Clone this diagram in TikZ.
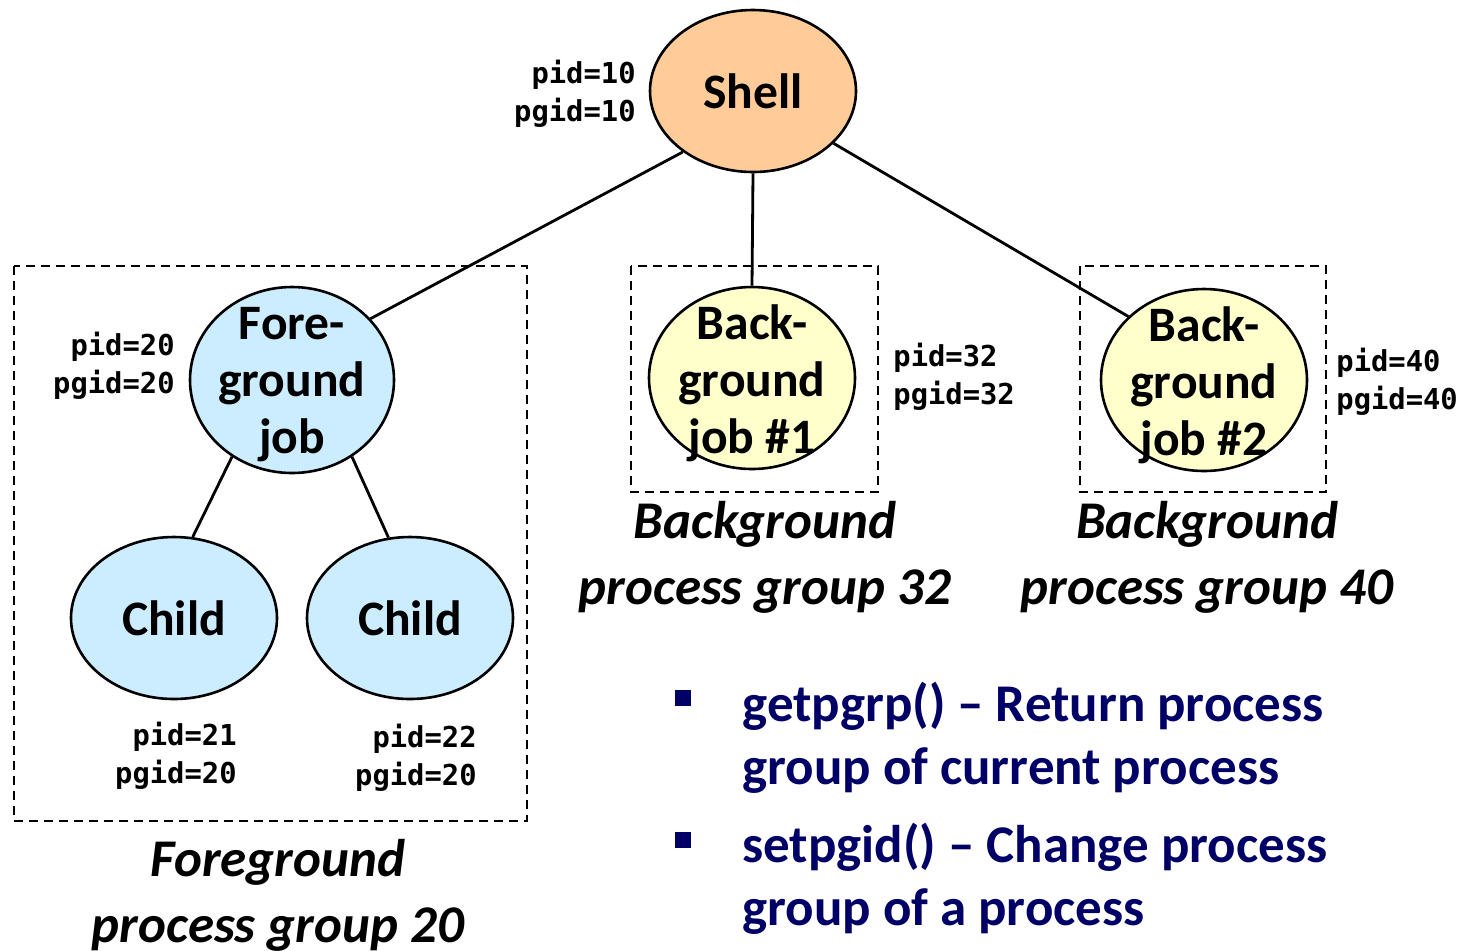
\documentclass[tikz,border=0pt]{standalone}
\usepackage{fontspec}
\setmainfont{Carlito}
\newfontfamily\idfont{DejaVu Sans Mono}
\usetikzlibrary{shapes.geometric}
\definecolor{shellfill}{HTML}{FFCC99}
\definecolor{fgfill}{HTML}{CCECFF}
\definecolor{bgfill}{HTML}{FFFFCC}
\definecolor{navy}{HTML}{000066}
\newcommand{\jobfont}{\fontsize{24.8}{28.5}\selectfont\bfseries}
\newcommand{\groupfont}{\fontsize{26.5}{33}\selectfont\bfseries\itshape}
\newcommand{\idsize}{\idfont\fontsize{14.4}{19}\selectfont\bfseries}
\newcommand{\notefont}{\fontsize{26.5}{31.5}\selectfont\bfseries}

\begin{document}
\begin{tikzpicture}[x=0.5pt,y=-0.5pt,
    proc/.style={ellipse,draw,line width=1.3pt,inner sep=0pt,
        minimum width=103pt,minimum height=81pt},
    jobtext/.style={font=\jobfont,align=center},
    jobtextlow/.style={jobtext,yshift=-2.5pt},
    ids/.style={font=\idsize,align=right,anchor=east,inner sep=0pt},
    idsl/.style={font=\idsize,align=left,anchor=west,inner sep=0pt},
    groupbox/.style={line width=1.4pt,dash pattern=on 4.5pt off 3pt},
    grouplabel/.style={font=\groupfont,align=center},
    link/.style={line width=1.4pt},
    bulletsq/.style={fill=navy,inner sep=0pt,minimum size=8pt},
    note/.style={font=\notefont,text=navy,align=left,anchor=west,inner sep=0pt},
    ]
\useasboundingbox (0,0) rectangle (1461,950);

% process groups
\draw[groupbox] (14,266) rectangle (527,821);
\draw[groupbox] (631,266) rectangle (878,492);
\draw[groupbox] (1080,266) rectangle (1326,492);

% processes
\node[proc,fill=shellfill,label={[jobtext]center:Shell}] (shell) at (753,91) {};
\node[proc,fill=fgfill,minimum width=102pt,minimum height=93pt,
    label={[jobtextlow]center:{Fore-\\ground\\job}}] (fgjob) at (292,380) {};
\node[proc,fill=fgfill,label={[jobtext]center:Child}] (childa) at (174,618) {};
\node[proc,fill=fgfill,label={[jobtext]center:Child}] (childb) at (410,618) {};
\node[proc,fill=bgfill,minimum height=91pt,
    label={[jobtextlow]center:{Back-\\ground\\job \#1}}] (bgjoba) at (752,378) {};
\node[proc,fill=bgfill,minimum height=91pt,
    label={[jobtextlow]center:{Back-\\ground\\job \#2}}] (bgjobb) at (1204,380) {};

\draw[link] (shell.221) -- (fgjob.38);
\draw[link] (shell.south) -- (bgjoba.north);
\draw[link] (shell.327) -- (bgjobb.140);
\draw[link] (fgjob.232) -- (childa.77);
\draw[link] (fgjob.308) -- (childb.105);

% ids
\node[ids] (shellid) at (636,94) {pid=10\\pgid=10};
\node[ids] (fgid) at (175,366) {pid=20\\pgid=20};
\node[ids] (childaid) at (237,756) {pid=21\\pgid=20};
\node[ids] (childbid) at (477,758) {pid=22\\pgid=20};
\node[idsl] (bgaid) at (893,377) {pid=32\\pgid=32};
\node[idsl] (bgbid) at (1336,382) {pid=40\\pgid=40};

% group names
\node[grouplabel] (fglabel) at (278,895) {Foreground\\process group 20};
\node[grouplabel] (bgalabel) at (765,557) {Background\\process group 32};
\node[grouplabel] (bgblabel) at (1207,557) {Background\\process group 40};

% notes
\node[bulletsq] (sqa) at (683,698) {};
\node[bulletsq] (sqb) at (683,840) {};
\node[note] (notea) at (742,738) {getpgrp() – Return process\\group of current process};
\node[note] (noteb) at (742,879) {setpgid() – Change process\\group of a process};
\end{tikzpicture}
\end{document}
